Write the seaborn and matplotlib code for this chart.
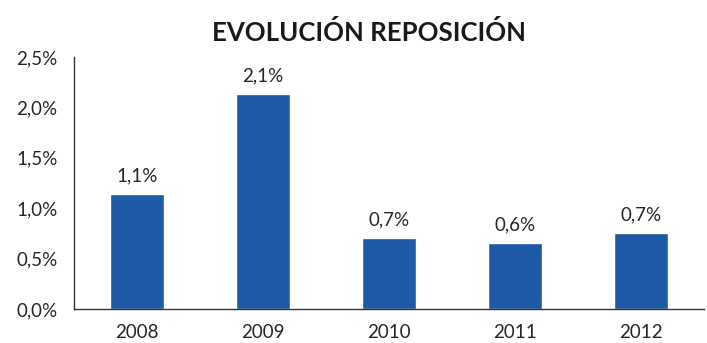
import matplotlib
matplotlib.use("Agg")
import matplotlib.pyplot as plt
import seaborn as sns
import pandas as pd
from matplotlib.ticker import FuncFormatter

years = ["2008", "2009", "2010", "2011", "2012"]
values = [1.14, 2.13, 0.70, 0.65, 0.75]
labels = ["1,1%", "2,1%", "0,7%", "0,6%", "0,7%"]
yticks = [0.0, 0.5, 1.0, 1.5, 2.0, 2.5]

sns.set_theme(style="white")
plt.rcParams['font.family'] = ['Lato', 'DejaVu Sans']

df = pd.DataFrame({"year": years, "value": values})

fig = plt.figure(figsize=(7.07, 3.43), dpi=100)
ax = fig.add_axes([0.1047, 0.0991, 0.8911, 0.7347])
sns.barplot(data=df, x="year", y="value", color="#1f5aa8", saturation=1, width=0.43, ax=ax)
ax.set_xlim(-0.5, 4.5)
ax.set_ylim(0, 2.5)
ax.set_yticks(yticks)
ax.yaxis.set_major_formatter(FuncFormatter(lambda v, p: f"{v:.1f}%".replace(".", ",")))
ax.set_xlabel("")
ax.set_ylabel("")
for s in ["top", "right"]:
    ax.spines[s].set_visible(False)
for s in ["left", "bottom"]:
    ax.spines[s].set_color("#333333")
    ax.spines[s].set_linewidth(1.0)
ax.tick_params(axis="both", length=0, labelsize=13.5, colors="#262626")
ax.tick_params(axis="y", pad=12)
ax.tick_params(axis="x", pad=11)
for i, (v, t) in enumerate(zip(values, labels)):
    ax.text(i, v + 0.1, t, ha="center", va="bottom", fontsize=13.5, color="#262626")
fig.text(0.522, 0.905, "EVOLUCIÓN REPOSICIÓN", ha="center", va="center",
         fontsize=18.5, fontweight="bold", color="#1a1a1a")
fig.savefig("out.png", dpi=100)
